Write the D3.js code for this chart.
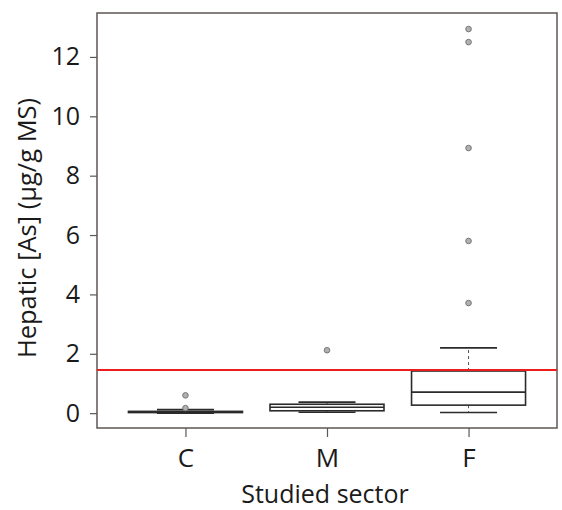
<!DOCTYPE html>
<meta charset="utf-8">
<style>
body { margin: 0; background: #fff; }
text { font-family: "Open Sans", sans-serif; fill: #1a1a1a; }
.frame { fill: none; stroke: #5e5753; stroke-width: 1.5px; }
.box rect, .box line.med, .box line.staple { stroke: #2b2b2b; stroke-width: 1.6px; fill: none; }
.box line.whisk { stroke: #555; stroke-width: 1px; stroke-dasharray: 3,3; }
.outlier { fill: #b0b0b0; stroke: #777; stroke-width: 1px; }
</style>
<body>
<svg width="562" height="510"></svg>
<script src="https://d3js.org/d3.v7.min.js"></script>
<script>

var sectors = ["C", "M", "F"];
var q1 = [0.02, 0.08, 0.27];
var median = [0.04, 0.20, 0.71];
var q3 = [0.06, 0.30, 1.42];
var whiskLow = [0.0, 0.03, 0.02];
var whiskHigh = [0.12, 0.37, 2.2];
var outliers = [[0.6, 0.17], [2.12], [12.94, 12.5, 8.93, 5.8, 3.71]];
var threshold = 1.45;
var yTicks = [0, 2, 4, 6, 8, 10, 12];

var svg = d3.select("svg"),
    pLeft = 97, pRight = 557, pTop = 13, pBottom = 428;

var x = d3.scalePoint().domain(sectors).range([pLeft, pRight]).padding(0.625);
var y = d3.scaleLinear().domain([-0.5, 13.48]).range([pBottom, pTop]);

var boxW = 114;

// y axis ticks + labels
var yAxis = svg.append("g")
    .attr("transform", "translate(" + pLeft + ",0)")
    .call(d3.axisLeft(y).tickValues(yTicks).tickSize(7).tickPadding(10));
yAxis.select(".domain").remove();
yAxis.selectAll("line").attr("stroke", "#5e5753").attr("stroke-width", 1.2);
yAxis.selectAll("text").style("font-size", "25px").attr("fill", "#1a1a1a").style("font-family", "'Open Sans', sans-serif");

// x axis
var xAxis = svg.append("g")
    .attr("transform", "translate(0," + pBottom + ")")
    .call(d3.axisBottom(x).tickSize(9).tickPadding(12));
xAxis.select(".domain").remove();
xAxis.selectAll("line").attr("stroke", "#5e5753").attr("stroke-width", 1.2);
xAxis.selectAll("text").style("font-size", "26px").attr("fill", "#1a1a1a").style("font-family", "'Open Sans', sans-serif");

// frame
svg.append("rect").attr("class", "frame")
    .attr("x", pLeft).attr("y", pTop)
    .attr("width", pRight - pLeft).attr("height", pBottom - pTop);

// boxes
var boxes = svg.selectAll("g.box")
    .data(sectors)
    .enter().append("g")
    .attr("class", "box");

boxes.append("line").attr("class", "whisk")
    .attr("x1", function(d) { return x(d); }).attr("x2", function(d) { return x(d); })
    .attr("y1", function(d, i) { return y(q3[i]); })
    .attr("y2", function(d, i) { return y(whiskHigh[i]); });
boxes.append("line").attr("class", "whisk")
    .attr("x1", function(d) { return x(d); }).attr("x2", function(d) { return x(d); })
    .attr("y1", function(d, i) { return y(q1[i]); })
    .attr("y2", function(d, i) { return y(whiskLow[i]); });

boxes.append("line").attr("class", "staple")
    .attr("x1", function(d) { return x(d) - boxW / 4; }).attr("x2", function(d) { return x(d) + boxW / 4; })
    .attr("y1", function(d, i) { return y(whiskHigh[i]); })
    .attr("y2", function(d, i) { return y(whiskHigh[i]); });
boxes.append("line").attr("class", "staple")
    .attr("x1", function(d) { return x(d) - boxW / 4; }).attr("x2", function(d) { return x(d) + boxW / 4; })
    .attr("y1", function(d, i) { return y(whiskLow[i]); })
    .attr("y2", function(d, i) { return y(whiskLow[i]); });

boxes.append("rect")
    .attr("x", function(d) { return x(d) - boxW / 2; })
    .attr("width", boxW)
    .attr("y", function(d, i) { return y(q3[i]); })
    .attr("height", function(d, i) { return y(q1[i]) - y(q3[i]); });

boxes.append("line").attr("class", "med")
    .attr("x1", function(d) { return x(d) - boxW / 2; }).attr("x2", function(d) { return x(d) + boxW / 2; })
    .attr("y1", function(d, i) { return y(median[i]); })
    .attr("y2", function(d, i) { return y(median[i]); });

// outliers
boxes.selectAll("circle")
    .data(function(d, i) { return outliers[i].map(function(v) { return {s: d, v: v}; }); })
    .enter().append("circle")
    .attr("class", "outlier")
    .attr("cx", function(d) { return x(d.s); })
    .attr("cy", function(d) { return y(d.v); })
    .attr("r", 2.8);

// threshold
svg.append("line")
    .attr("x1", pLeft).attr("x2", pRight)
    .attr("y1", y(threshold)).attr("y2", y(threshold))
    .attr("stroke", "#ee1c1c").attr("stroke-width", 2);

// titles
svg.append("text")
    .attr("transform", "translate(36,228) rotate(-90)")
    .attr("text-anchor", "middle")
    .style("font-size", "25.5px")
    .text("Hepatic [As] (µg/g MS)");

svg.append("text")
    .attr("x", 325).attr("y", 503)
    .attr("text-anchor", "middle")
    .style("font-size", "25px")
    .text("Studied sector");

</script>
</body>
